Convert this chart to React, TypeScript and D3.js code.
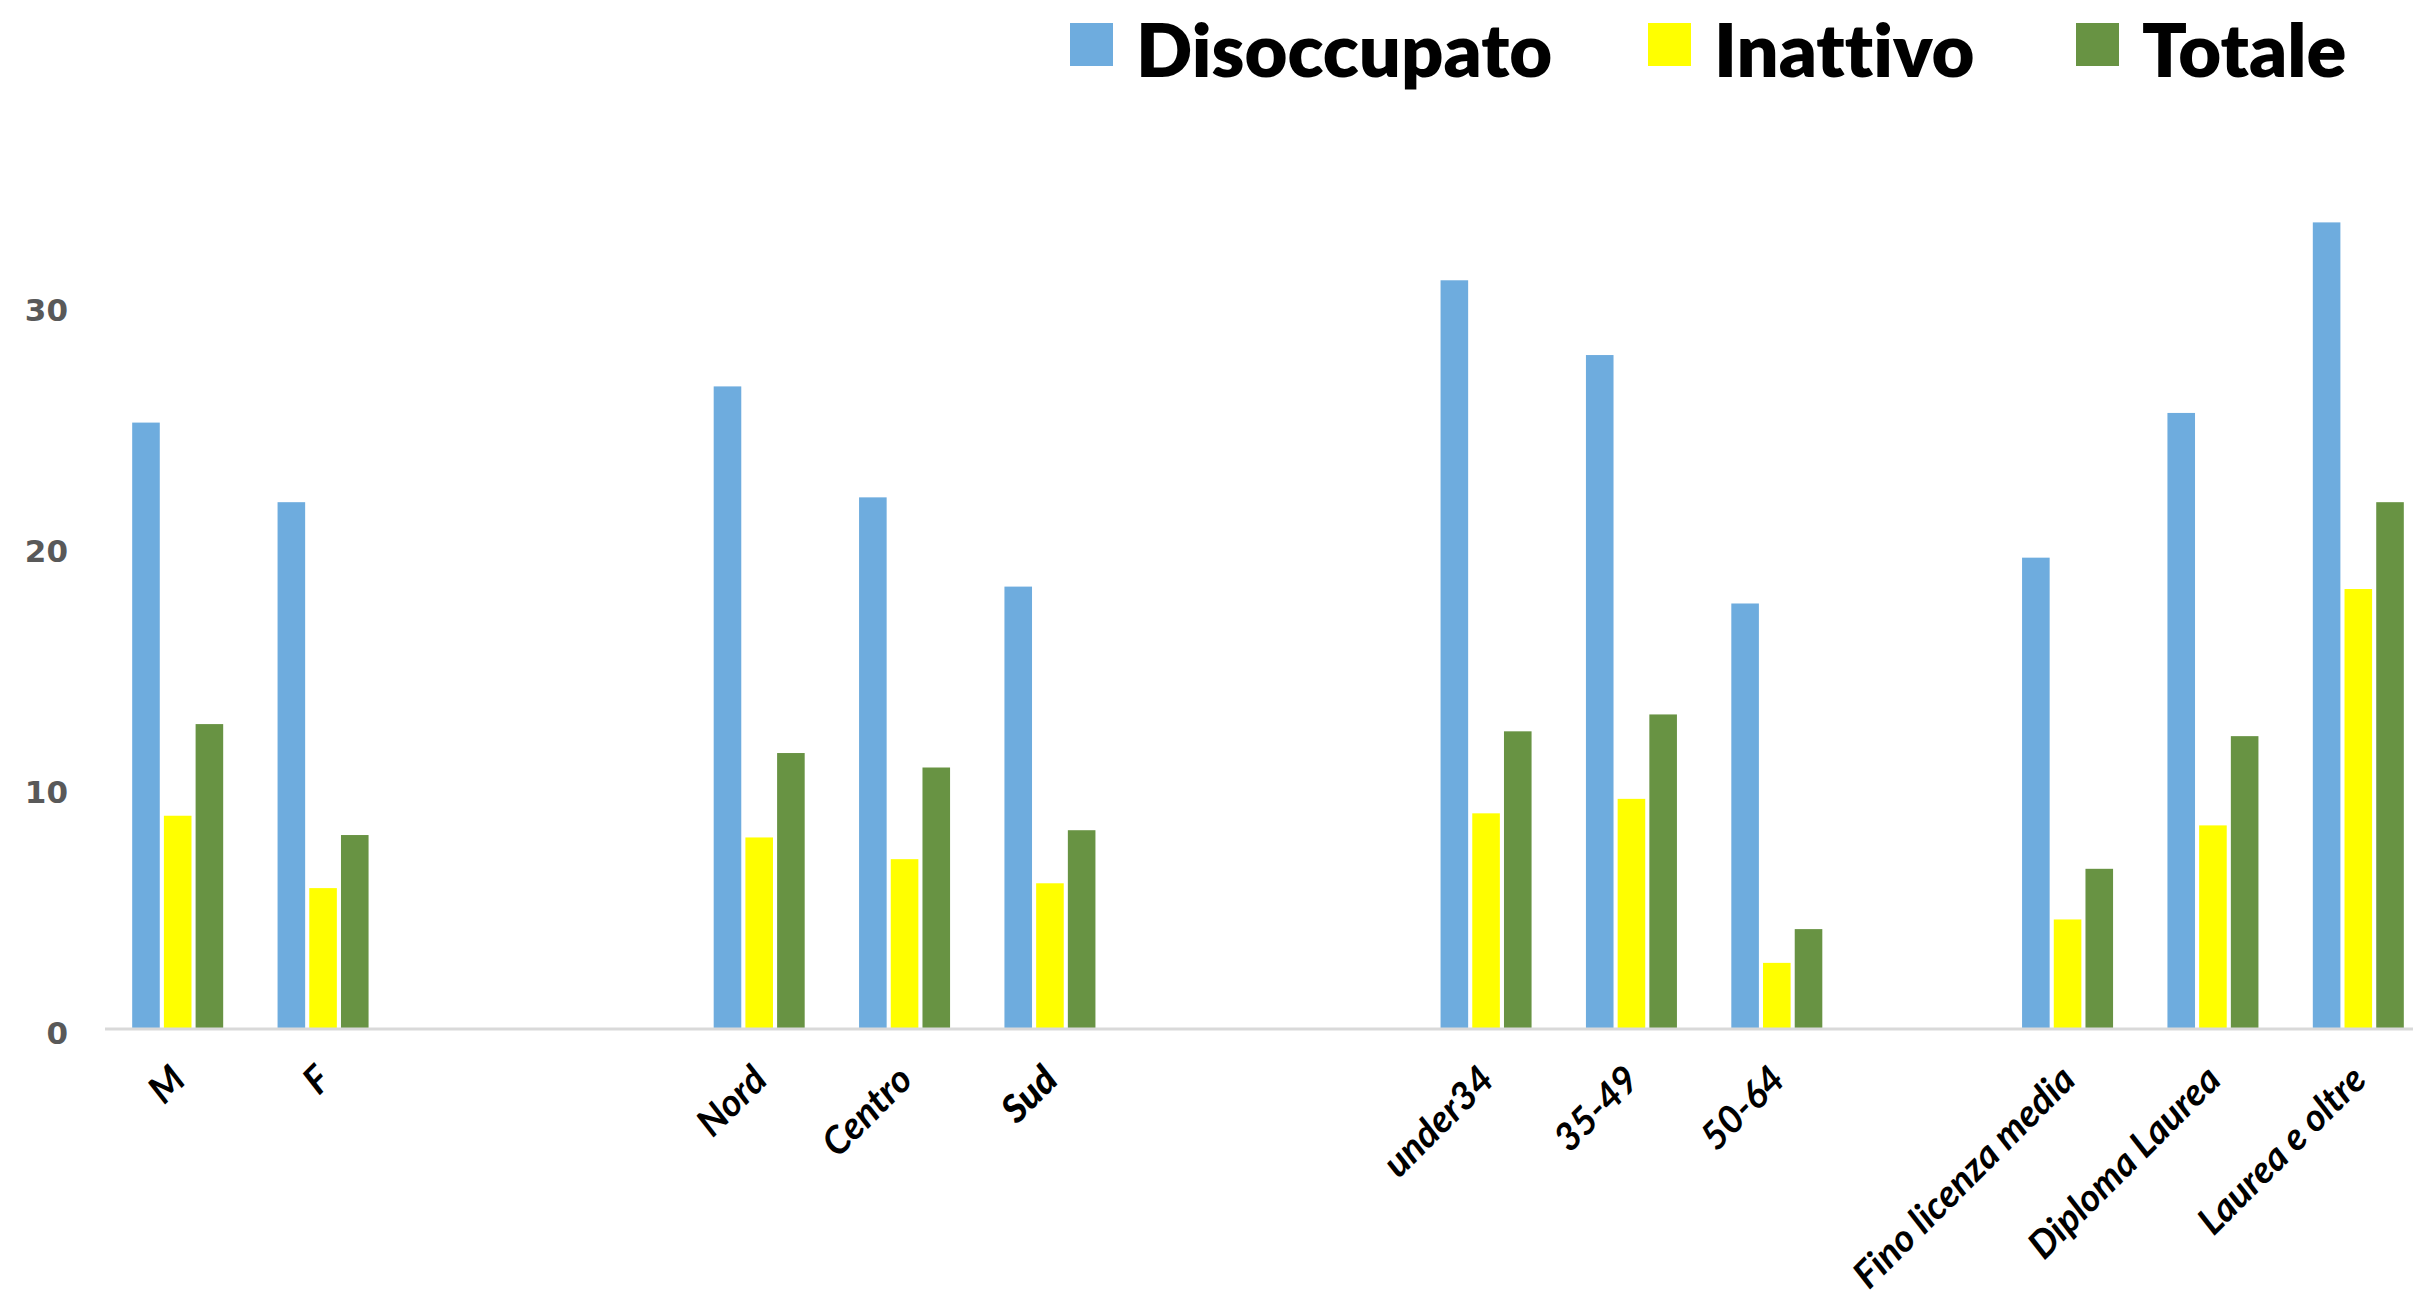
import React from "react";
import * as d3 from "d3";

const categories = ["M", "F", "", " ", "Nord", "Centro", "Sud", "  ", "   ", "under34", "35-49", "50-64", "    ", "Fino licenza media", "Diploma Laurea", "Laurea e oltre"];
const disoccupato = [25.1, 21.8, null, null, 26.6, 22.0, 18.3, null, null, 31.0, 27.9, 17.6, null, 19.5, 25.5, 33.4];
const inattivo = [8.8, 5.8, null, null, 7.9, 7.0, 6.0, null, null, 8.9, 9.5, 2.7, null, 4.5, 8.4, 18.2];
const totale = [12.6, 8.0, null, null, 11.4, 10.8, 8.2, null, null, 12.3, 13.0, 4.1, null, 6.6, 12.1, 21.8];
const seriesNames = ["Disoccupato", "Inattivo", "Totale"];
const seriesColors = ["#6EACDE", "#FFFF00", "#689343"];
const yTicks = [0, 10, 20, 30];

const W = 2413;
const H = 1301;

export default function App() {
  const series = [disoccupato, inattivo, totale];
  const x = d3.scaleBand<string>().domain(categories).range([105, 2431]).padding(0);
  const inner = d3.scaleBand<string>().domain(seriesNames).range([-45.5, 45.5]).paddingInner(0.13);
  const y = d3.scaleLinear().domain([0, 30]).range([1028, 304.4]);

  const legendX = [1070, 1648, 2076];

  return (
    <svg width={W} height={H} style={{ position: "absolute", left: 0, top: 0, background: "#fff" }}>
      <rect x={0} y={0} width={W} height={H} fill="#fff" />
      {/* y tick labels */}
      {yTicks.map((t) => (
        <text key={t} x={68} y={y(t)} dy="0.52em" textAnchor="end" fontFamily="DejaVu Sans" fontWeight="bold" fontSize={31} fill="#595959">
          {t}
        </text>
      ))}
      {/* bars */}
      {categories.map((c, i) => {
        const cx = (x(c) as number) + x.bandwidth() / 2;
        return series.map((s, k) => {
          const v = s[i];
          if (v == null) return null;
          return (
            <rect
              key={c + k}
              x={cx + (inner(seriesNames[k]) as number)}
              y={y(v)}
              width={inner.bandwidth()}
              height={y(0) - y(v)}
              fill={seriesColors[k]}
            />
          );
        });
      })}
      {/* axis line */}
      <line x1={105} x2={W} y1={y(0) + 1} y2={y(0) + 1} stroke="#d9d9d9" strokeWidth={3} />
      {/* x labels */}
      {categories.map((c, i) => {
        if (disoccupato[i] == null) return null;
        const cx = (x(c) as number) + x.bandwidth() / 2;
        return (
          <text
            key={"l" + c}
            transform={`translate(${cx + 10},${1082}) rotate(-45)`}
            textAnchor="end"
            fontFamily="Lato"
            fontStyle="italic"
            fontWeight={c === "Sud" ? 900 : 700}
            fontSize={38}
            fill="#000"
            style={{ fontVariantLigatures: "none" }}
          >
            {c}
          </text>
        );
      })}
      {/* legend */}
      {seriesNames.map((n, k) => (
        <g key={n}>
          <rect x={legendX[k]} y={23} width={43} height={43} fill={seriesColors[k]} />
          <text x={legendX[k] + 66} y={77} fontFamily="Lato" fontWeight={800} fontSize={74} fill="#000" style={{ fontVariantLigatures: "none" }}>
            {n}
          </text>
        </g>
      ))}
    </svg>
  );
}
